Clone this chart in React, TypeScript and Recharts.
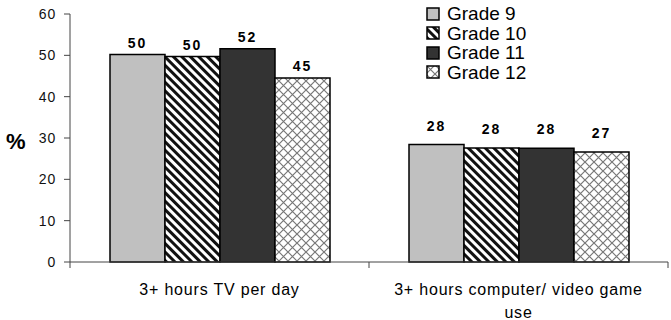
import { BarChart, Bar, XAxis, YAxis, Legend, LabelList } from 'recharts';

const categories = ['3+ hours TV per day', '3+ hours computer/ video game use'];
const grade9 = [50.2, 28.4];
const grade10 = [49.7, 27.6];
const grade11 = [51.6, 27.5];
const grade12 = [44.5, 26.6];
const yTicks = [0, 10, 20, 30, 40, 50, 60];

const font = "Arial, 'Liberation Sans', sans-serif";

const series = [
  { key: 'g9', name: 'Grade 9', fill: '#c0c0c0' },
  { key: 'g10', name: 'Grade 10', fill: 'url(#stripes)' },
  { key: 'g11', name: 'Grade 11', fill: '#333333' },
  { key: 'g12', name: 'Grade 12', fill: 'url(#hatch)' },
];

const data = categories.map((name, i) => ({
  name,
  g9: grade9[i],
  g10: grade10[i],
  g11: grade11[i],
  g12: grade12[i],
}));

// crude word wrap by character count
const wrap = (s: string, max = 30) => {
  const lines: string[] = [];
  let cur = '';
  s.split(' ').forEach((w) => {
    const next = cur ? cur + ' ' + w : w;
    if (next.length > max && cur) {
      lines.push(cur);
      cur = w;
    } else {
      cur = next;
    }
  });
  if (cur) lines.push(cur);
  return lines;
};

// excel-ish category ticks sit on the band boundaries, not the centres
const XTick = (props: any) => {
  const { x, y, payload, index } = props;
  const half = payload.offset ?? 0;
  const last = index === categories.length - 1;
  return (
    <g>
      <line x1={x - half} x2={x - half} y1={y} y2={y + 6} stroke="#444" />
      {last && <line x1={x + half} x2={x + half} y1={y} y2={y + 6} stroke="#444" />}
      <text
        x={x}
        y={y + 33}
        textAnchor="middle"
        fontSize={16}
        fontFamily={font}
        letterSpacing={0.8}
        fill="#000"
      >
        {wrap(payload.value).map((line, i) => (
          <tspan key={i} x={x} dy={i === 0 ? 0 : 23}>
            {line}
          </tspan>
        ))}
      </text>
    </g>
  );
};

const BarLabel = (props: any) => {
  const { x, y, width, value, index } = props;
  const lift = index === 0 ? 7 : 14;
  return (
    <text
      x={x + width / 2}
      y={y - lift}
      textAnchor="middle"
      fontSize={14}
      fontWeight="bold"
      fontFamily={font}
      letterSpacing={2}
      fill="#000"
    >
      {Math.round(value)}
    </text>
  );
};

const renderLegend = () => (
  <div style={{ fontFamily: font, fontSize: 19, lineHeight: '19.5px', color: '#000' }}>
    {series.map((s) => (
      <div key={s.key} style={{ display: 'flex', alignItems: 'center', height: 19.5 }}>
        <svg width={14} height={14} style={{ marginRight: 7 }}>
          <rect x={1} y={1} width={12} height={12} fill={s.fill} stroke="#000" strokeWidth={1.5} />
        </svg>
        <span>{s.name}</span>
      </div>
    ))}
  </div>
);

export default function App() {
  return (
    <div style={{ position: 'absolute', left: 0, top: 0 }}>
      <BarChart
        width={671}
        height={320}
        data={data}
        margin={{ top: 14, right: 3, bottom: 28, left: 0 }}
        barCategoryGap={40}
        barGap={0}
      >
        <defs>
          <pattern id="stripes" patternUnits="userSpaceOnUse" width={6} height={6} patternTransform="rotate(45)">
            <rect width={6} height={6} fill="#fff" />
            <rect width={6} height={3} fill="#111" />
          </pattern>
          <pattern id="hatch" patternUnits="userSpaceOnUse" width={9} height={9}>
            <rect width={9} height={9} fill="#fff" />
            <path d="M0,0 L9,9 M9,0 L0,9" stroke="#777" strokeWidth={1.2} />
          </pattern>
        </defs>
        <XAxis
          dataKey="name"
          height={30}
          tickSize={0}
          tickMargin={0}
          tickLine={false}
          stroke="#444"
          tick={<XTick />}
          interval={0}
        />
        <YAxis
          width={70}
          domain={[0, 60]}
          ticks={yTicks}
          tickSize={6}
          tickMargin={8}
          stroke="#444"
          tick={{ fill: '#111', fontSize: 14, fontFamily: font, letterSpacing: 0.8 }}
          label={{
            value: '%',
            position: 'insideLeft',
            offset: 6,
            dy: 3,
            fontSize: 22,
            fontWeight: 'bold',
            fontFamily: font,
            fill: '#000',
          }}
        />
        <Legend
          layout="vertical"
          align="center"
          verticalAlign="middle"
          content={renderLegend}
          wrapperStyle={{ left: 426, top: 4, width: 'auto', height: 'auto' }}
        />
        {series.map((s) => (
          <Bar
            key={s.key}
            dataKey={s.key}
            name={s.name}
            fill={s.fill}
            stroke="#000"
            strokeWidth={1.5}
            isAnimationActive={false}
          >
            <LabelList dataKey={s.key} content={<BarLabel />} />
          </Bar>
        ))}
      </BarChart>
    </div>
  );
}
